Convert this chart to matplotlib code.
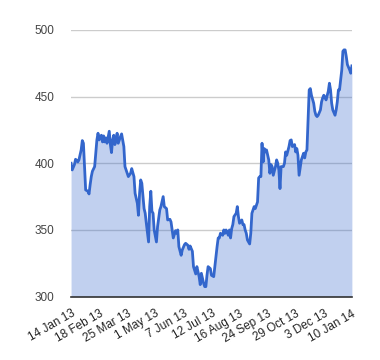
import matplotlib
matplotlib.use("Agg")
import matplotlib.pyplot as plt

# trading-day index and closing value
days = [0, 1, 3, 4, 6, 7, 9, 10, 11, 12, 13, 15, 16, 17, 18, 19, 21, 22, 23, 24,
        25, 27, 28, 29, 30, 31, 32, 34, 35, 36, 37, 38, 39, 40, 41, 42, 44, 45, 47, 48,
        50, 51, 53, 54, 56, 57, 59, 60, 61, 62, 63, 65, 66, 67, 69, 70, 71, 72, 73, 74,
        76, 77, 79, 80, 82, 83, 85, 86, 88, 89, 90, 91, 93, 94, 95, 96, 98, 99, 101, 102,
        104, 105, 106, 108, 109, 111, 112, 114, 115, 116, 118, 119, 120, 121, 122, 124, 125, 127, 128, 130,
        131, 132, 133, 135, 136, 137, 138, 140, 141, 142, 143, 144, 145, 147, 148, 149, 150, 152, 153, 154,
        155, 156, 157, 159, 160, 161, 162, 163, 164, 166, 167, 168, 169, 170, 171, 172, 173, 174, 176, 177,
        178, 179, 180, 182, 183, 184, 185, 186, 187, 189, 190, 191, 192, 194, 195, 196, 197, 199, 200, 201,
        202, 203, 205, 206, 207, 208, 209, 210, 211, 212, 213, 214, 216, 217, 218, 219, 220, 222, 223, 224,
        225, 226, 227, 229, 230, 231, 232, 233, 235, 236, 237, 238, 239, 241, 242, 243, 244, 245, 246, 248,
        249, 250]
values = [400, 395, 399, 403, 401, 402.5, 410, 417, 415, 397.5, 380, 379, 377, 384, 390, 394, 397.5, 407.5, 417.5, 422.5,
          417.5, 421, 416, 420.5, 416, 419, 415, 424, 414, 408, 417.5, 421, 414, 417.5, 422.5, 415, 420, 422, 412.5, 397.5,
          392.5, 390, 392.5, 396, 390, 377.5, 370, 361, 377.5, 387.5, 385, 366, 362.5, 355, 341, 367.5, 379, 364, 362.5, 350,
          341, 352.5, 365, 367.5, 375, 367.5, 366, 357.5, 358, 356, 350, 344, 349.5, 347.5, 350, 337.5, 331, 335, 339, 340,
          338.5, 335.5, 338, 334, 322.5, 317, 322.5, 315, 309, 317.5, 310, 307.5, 307.5, 316, 322.5, 321, 316, 315, 322.5, 337.5,
          344, 344, 347.5, 346, 350, 347.5, 350, 346, 350, 344, 351, 354, 360, 362.5, 367.5, 360, 355, 357.5, 354, 354,
          350, 347.5, 342.5, 339.5, 347.5, 362.5, 365, 367.5, 366, 371, 389, 390, 390, 415, 401, 411, 408.5, 410, 402.5, 392.5,
          399, 397.5, 391, 397.5, 402.5, 400, 395, 381, 397.5, 397.5, 400, 408.5, 406, 412.5, 417, 417.5, 412.5, 414, 408.5, 411,
          406, 391, 402.5, 405, 407.5, 404, 408.5, 410, 432.5, 455, 456, 451, 445, 439, 436, 435, 436, 440, 446, 449,
          451, 449.5, 447.5, 454, 460, 455, 445, 440, 436, 440, 446, 455, 455, 470, 484, 485, 485, 480, 474, 470,
          467.5, 473]

tick_days = [0, 25, 50, 75, 100, 125, 150, 175, 200, 225, 250]
tick_labels = ["14 Jan 13", "18 Feb 13", "25 Mar 13", "1 May 13", "7 Jun 13", "12 Jul 13",
               "16 Aug 13", "24 Sep 13", "29 Oct 13", "3 Dec 13", "10 Jan 14"]
y_ticks = [300, 350, 400, 450, 500]

plt.rcParams['font.family'] = ['Liberation Sans', 'DejaVu Sans']

fig = plt.figure(figsize=(3.8, 3.6), dpi=100)
ax = fig.add_axes([0.187, 0.176, 0.739, 0.741])

ax.fill_between(days, values, 300, color="#3366cc", alpha=0.3, linewidth=0)
ax.plot(days, values, color="#3366cc", linewidth=2)

ax.set_xlim(0, 250)
ax.set_ylim(300, 500)
ax.set_yticks(y_ticks)
ax.set_xticks(tick_days)
ax.set_xticklabels(tick_labels, rotation=30, ha="right", rotation_mode="anchor")
ax.grid(axis="y", color="#cccccc", linewidth=1)
ax.set_axisbelow(True)
ax.tick_params(axis="both", length=0, labelsize=8.5, colors="#222222")
ax.tick_params(axis="y", pad=12, labelcolor="#444444")
ax.tick_params(axis="x", pad=8)
for side in ["top", "right", "left"]:
    ax.spines[side].set_visible(False)
ax.spines["bottom"].set_color("#333333")
ax.spines["bottom"].set_linewidth(1.2)

fig.savefig("out.png", dpi=100)
